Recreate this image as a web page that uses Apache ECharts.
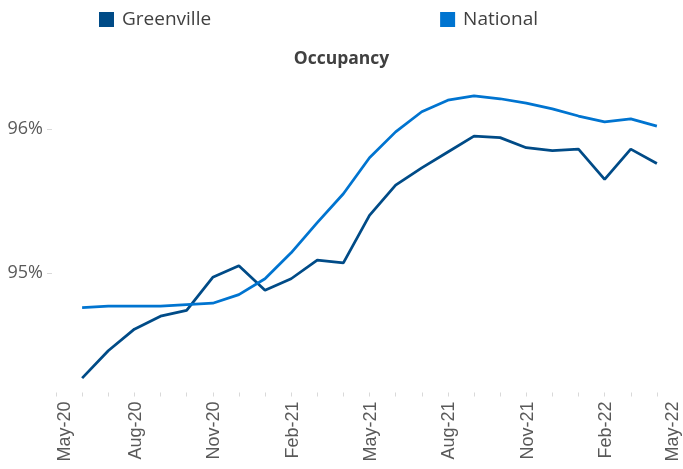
<!DOCTYPE html>
<html>
<head>
<meta charset="utf-8">
<script src="https://cdn.jsdelivr.net/npm/echarts@6/dist/echarts.min.js"></script>
<style>
html,body{margin:0;padding:0;background:#fff;}
#chart{width:683px;height:469px;}
</style>
</head>
<body>
<div id="chart"></div>
<script>
const categories = ['May-20','Jun-20','Jul-20','Aug-20','Sep-20','Oct-20','Nov-20','Dec-20','Jan-21','Feb-21','Mar-21','Apr-21','May-21','Jun-21','Jul-21','Aug-21','Sep-21','Oct-21','Nov-21','Dec-21','Jan-22','Feb-22','Mar-22','Apr-22','May-22'];
const greenville = [null,94.27,94.46,94.61,94.70,94.74,94.97,95.05,94.88,94.96,95.09,95.07,95.40,95.61,95.73,95.84,95.95,95.94,95.87,95.85,95.86,95.65,95.86,95.76,null];
const national = [null,94.76,94.77,94.77,94.77,94.78,94.79,94.85,94.96,95.14,95.35,95.55,95.80,95.98,96.12,96.20,96.23,96.21,96.18,96.14,96.09,96.05,96.07,96.02,null];
const yTickValues = [95,96];

const chart = echarts.init(document.getElementById('chart'), null, {renderer:'canvas'});
const lastIdx = categories.length - 1;
chart.setOption({
  animation:false,
  backgroundColor:'#ffffff',
  title:{
    text:'Occupancy', left:'center', top:50, padding:0,
    textStyle:{fontFamily:'Open Sans', fontWeight:'bold', fontSize:17.5, color:'#404040'}
  },
  legend:{
    left:99, top:10, padding:0, itemGap:229, itemWidth:15, itemHeight:15,
    icon:'rect',
    textStyle:{fontFamily:'Open Sans', fontSize:19, color:'#404040', padding:[0,0,0,3]},
    data:['Greenville','National']
  },
  grid:{left:56, top:71.4, width:630.5, height:321.1, containLabel:false},
  xAxis:{
    type:'category', data:categories, boundaryGap:false,
    axisLine:{show:false},
    axisTick:{show:true, interval:0, length:4, lineStyle:{color:'#d9d9d9'}},
    axisLabel:{
      interval:2, rotate:90, margin:9,
      fontFamily:'Liberation Sans', fontSize:18, color:'#595959',
      formatter:function(v, i){
        if(i===0) return '{first|'+v+'}';
        if(i===lastIdx) return '{last|'+v+'}';
        return '{mid|'+v+'}';
      },
      rich:{
        first:{fontFamily:'Liberation Sans', fontSize:18, color:'#595959', padding:[18,0,0,0]},
        mid:{fontFamily:'Liberation Sans', fontSize:18, color:'#595959', padding:[3,0,0,0]},
        last:{fontFamily:'Liberation Sans', fontSize:18, color:'#595959', padding:[0,0,20,0]}
      }
    },
    splitLine:{show:false}
  },
  yAxis:{
    type:'value', min:94.17, max:96.4, offset:4,
    axisLine:{show:false},
    axisTick:{show:true, length:5, lineStyle:{color:'#d9d9d9'}, customValues:yTickValues},
    axisLabel:{
      margin:9, fontFamily:'Open Sans', fontSize:18, color:'#595959',
      customValues:yTickValues,
      formatter:function(v){return Math.round(v)+'%';}
    },
    splitLine:{show:false}
  },
  series:[
    {name:'Greenville', type:'line', data:greenville, symbol:'none', smooth:false,
     itemStyle:{color:'#004b87'}, lineStyle:{color:'#004b87', width:2.75}},
    {name:'National', type:'line', data:national, symbol:'none', smooth:false,
     itemStyle:{color:'#0074d0'}, lineStyle:{color:'#0074d0', width:2.75}}
  ]
});
</script>
</body>
</html>
